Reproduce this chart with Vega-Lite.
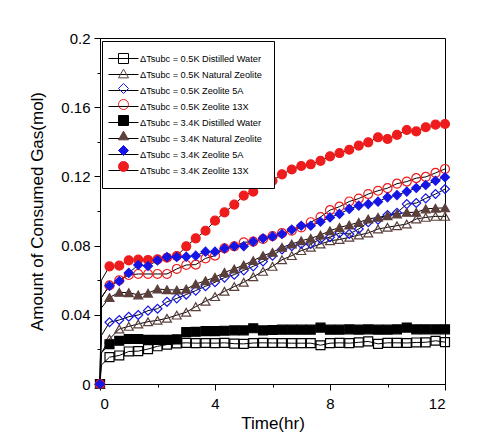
{
  "$schema": "https://vega.github.io/schema/vega-lite/v6.json",
  "width": 345,
  "height": 346,
  "autosize": {"type": "none"},
  "padding": {"left": 100, "top": 38, "right": 51, "bottom": 61},
  "background": "white",
  "data": {"values": [
    {"s":"ΔTsubc = 0.5K Distilled Water","t":0,"v":0},{"s":"ΔTsubc = 0.5K Distilled Water","t":0.05,"v":0.011},{"s":"ΔTsubc = 0.5K Distilled Water","t":0.33,"v":0.0155},{"s":"ΔTsubc = 0.5K Distilled Water","t":0.67,"v":0.0165},{"s":"ΔTsubc = 0.5K Distilled Water","t":1,"v":0.0188},{"s":"ΔTsubc = 0.5K Distilled Water","t":1.33,"v":0.019},{"s":"ΔTsubc = 0.5K Distilled Water","t":1.67,"v":0.0202},{"s":"ΔTsubc = 0.5K Distilled Water","t":2,"v":0.0218},{"s":"ΔTsubc = 0.5K Distilled Water","t":2.33,"v":0.0228},{"s":"ΔTsubc = 0.5K Distilled Water","t":2.67,"v":0.0235},{"s":"ΔTsubc = 0.5K Distilled Water","t":3,"v":0.0238},{"s":"ΔTsubc = 0.5K Distilled Water","t":3.33,"v":0.0236},{"s":"ΔTsubc = 0.5K Distilled Water","t":3.67,"v":0.0237},{"s":"ΔTsubc = 0.5K Distilled Water","t":4,"v":0.0236},{"s":"ΔTsubc = 0.5K Distilled Water","t":4.33,"v":0.0238},{"s":"ΔTsubc = 0.5K Distilled Water","t":4.67,"v":0.0233},{"s":"ΔTsubc = 0.5K Distilled Water","t":5,"v":0.0232},{"s":"ΔTsubc = 0.5K Distilled Water","t":5.33,"v":0.0237},{"s":"ΔTsubc = 0.5K Distilled Water","t":5.67,"v":0.0238},{"s":"ΔTsubc = 0.5K Distilled Water","t":6,"v":0.0237},{"s":"ΔTsubc = 0.5K Distilled Water","t":6.33,"v":0.0237},{"s":"ΔTsubc = 0.5K Distilled Water","t":6.67,"v":0.0236},{"s":"ΔTsubc = 0.5K Distilled Water","t":7,"v":0.0236},{"s":"ΔTsubc = 0.5K Distilled Water","t":7.33,"v":0.0236},{"s":"ΔTsubc = 0.5K Distilled Water","t":7.67,"v":0.0224},{"s":"ΔTsubc = 0.5K Distilled Water","t":8,"v":0.0236},{"s":"ΔTsubc = 0.5K Distilled Water","t":8.33,"v":0.0238},{"s":"ΔTsubc = 0.5K Distilled Water","t":8.67,"v":0.0236},{"s":"ΔTsubc = 0.5K Distilled Water","t":9,"v":0.0241},{"s":"ΔTsubc = 0.5K Distilled Water","t":9.33,"v":0.0246},{"s":"ΔTsubc = 0.5K Distilled Water","t":9.67,"v":0.0232},{"s":"ΔTsubc = 0.5K Distilled Water","t":10,"v":0.0238},{"s":"ΔTsubc = 0.5K Distilled Water","t":10.33,"v":0.0238},{"s":"ΔTsubc = 0.5K Distilled Water","t":10.67,"v":0.0237},{"s":"ΔTsubc = 0.5K Distilled Water","t":11,"v":0.024},{"s":"ΔTsubc = 0.5K Distilled Water","t":11.33,"v":0.0241},{"s":"ΔTsubc = 0.5K Distilled Water","t":11.67,"v":0.025},{"s":"ΔTsubc = 0.5K Distilled Water","t":12,"v":0.0242},
    {"s":"ΔTsubc = 0.5K Natural Zeolite","t":0,"v":0},{"s":"ΔTsubc = 0.5K Natural Zeolite","t":0.05,"v":0.018},{"s":"ΔTsubc = 0.5K Natural Zeolite","t":0.33,"v":0.026},{"s":"ΔTsubc = 0.5K Natural Zeolite","t":0.67,"v":0.0318},{"s":"ΔTsubc = 0.5K Natural Zeolite","t":1,"v":0.0333},{"s":"ΔTsubc = 0.5K Natural Zeolite","t":1.33,"v":0.0347},{"s":"ΔTsubc = 0.5K Natural Zeolite","t":1.67,"v":0.036},{"s":"ΔTsubc = 0.5K Natural Zeolite","t":2,"v":0.0368},{"s":"ΔTsubc = 0.5K Natural Zeolite","t":2.33,"v":0.038},{"s":"ΔTsubc = 0.5K Natural Zeolite","t":2.67,"v":0.0398},{"s":"ΔTsubc = 0.5K Natural Zeolite","t":3,"v":0.0415},{"s":"ΔTsubc = 0.5K Natural Zeolite","t":3.33,"v":0.0447},{"s":"ΔTsubc = 0.5K Natural Zeolite","t":3.67,"v":0.0478},{"s":"ΔTsubc = 0.5K Natural Zeolite","t":4,"v":0.0505},{"s":"ΔTsubc = 0.5K Natural Zeolite","t":4.33,"v":0.0536},{"s":"ΔTsubc = 0.5K Natural Zeolite","t":4.67,"v":0.0563},{"s":"ΔTsubc = 0.5K Natural Zeolite","t":5,"v":0.0588},{"s":"ΔTsubc = 0.5K Natural Zeolite","t":5.33,"v":0.062},{"s":"ΔTsubc = 0.5K Natural Zeolite","t":5.67,"v":0.0651},{"s":"ΔTsubc = 0.5K Natural Zeolite","t":6,"v":0.068},{"s":"ΔTsubc = 0.5K Natural Zeolite","t":6.33,"v":0.0718},{"s":"ΔTsubc = 0.5K Natural Zeolite","t":6.67,"v":0.0742},{"s":"ΔTsubc = 0.5K Natural Zeolite","t":7,"v":0.0771},{"s":"ΔTsubc = 0.5K Natural Zeolite","t":7.33,"v":0.079},{"s":"ΔTsubc = 0.5K Natural Zeolite","t":7.67,"v":0.0809},{"s":"ΔTsubc = 0.5K Natural Zeolite","t":8,"v":0.0828},{"s":"ΔTsubc = 0.5K Natural Zeolite","t":8.33,"v":0.0835},{"s":"ΔTsubc = 0.5K Natural Zeolite","t":8.67,"v":0.0848},{"s":"ΔTsubc = 0.5K Natural Zeolite","t":9,"v":0.0861},{"s":"ΔTsubc = 0.5K Natural Zeolite","t":9.33,"v":0.0873},{"s":"ΔTsubc = 0.5K Natural Zeolite","t":9.67,"v":0.0896},{"s":"ΔTsubc = 0.5K Natural Zeolite","t":10,"v":0.0906},{"s":"ΔTsubc = 0.5K Natural Zeolite","t":10.33,"v":0.0915},{"s":"ΔTsubc = 0.5K Natural Zeolite","t":10.67,"v":0.0925},{"s":"ΔTsubc = 0.5K Natural Zeolite","t":11,"v":0.0954},{"s":"ΔTsubc = 0.5K Natural Zeolite","t":11.33,"v":0.0963},{"s":"ΔTsubc = 0.5K Natural Zeolite","t":11.67,"v":0.0969},{"s":"ΔTsubc = 0.5K Natural Zeolite","t":12,"v":0.0969},
    {"s":"ΔTsubc = 0.5K Zeolite 5A","t":0,"v":0},{"s":"ΔTsubc = 0.5K Zeolite 5A","t":0.05,"v":0.028},{"s":"ΔTsubc = 0.5K Zeolite 5A","t":0.33,"v":0.0357},{"s":"ΔTsubc = 0.5K Zeolite 5A","t":0.67,"v":0.037},{"s":"ΔTsubc = 0.5K Zeolite 5A","t":1,"v":0.0389},{"s":"ΔTsubc = 0.5K Zeolite 5A","t":1.33,"v":0.0399},{"s":"ΔTsubc = 0.5K Zeolite 5A","t":1.67,"v":0.0424},{"s":"ΔTsubc = 0.5K Zeolite 5A","t":2,"v":0.0435},{"s":"ΔTsubc = 0.5K Zeolite 5A","t":2.33,"v":0.0475},{"s":"ΔTsubc = 0.5K Zeolite 5A","t":2.67,"v":0.0495},{"s":"ΔTsubc = 0.5K Zeolite 5A","t":3,"v":0.0517},{"s":"ΔTsubc = 0.5K Zeolite 5A","t":3.33,"v":0.054},{"s":"ΔTsubc = 0.5K Zeolite 5A","t":3.67,"v":0.0565},{"s":"ΔTsubc = 0.5K Zeolite 5A","t":4,"v":0.0588},{"s":"ΔTsubc = 0.5K Zeolite 5A","t":4.33,"v":0.0615},{"s":"ΔTsubc = 0.5K Zeolite 5A","t":4.67,"v":0.0632},{"s":"ΔTsubc = 0.5K Zeolite 5A","t":5,"v":0.0657},{"s":"ΔTsubc = 0.5K Zeolite 5A","t":5.33,"v":0.068},{"s":"ΔTsubc = 0.5K Zeolite 5A","t":5.67,"v":0.0708},{"s":"ΔTsubc = 0.5K Zeolite 5A","t":6,"v":0.0742},{"s":"ΔTsubc = 0.5K Zeolite 5A","t":6.33,"v":0.0778},{"s":"ΔTsubc = 0.5K Zeolite 5A","t":6.67,"v":0.0796},{"s":"ΔTsubc = 0.5K Zeolite 5A","t":7,"v":0.0809},{"s":"ΔTsubc = 0.5K Zeolite 5A","t":7.33,"v":0.0809},{"s":"ΔTsubc = 0.5K Zeolite 5A","t":7.67,"v":0.0838},{"s":"ΔTsubc = 0.5K Zeolite 5A","t":8,"v":0.0848},{"s":"ΔTsubc = 0.5K Zeolite 5A","t":8.33,"v":0.0873},{"s":"ΔTsubc = 0.5K Zeolite 5A","t":8.67,"v":0.0867},{"s":"ΔTsubc = 0.5K Zeolite 5A","t":9,"v":0.0896},{"s":"ΔTsubc = 0.5K Zeolite 5A","t":9.33,"v":0.0935},{"s":"ΔTsubc = 0.5K Zeolite 5A","t":9.67,"v":0.095},{"s":"ΔTsubc = 0.5K Zeolite 5A","t":10,"v":0.0977},{"s":"ΔTsubc = 0.5K Zeolite 5A","t":10.33,"v":0.099},{"s":"ΔTsubc = 0.5K Zeolite 5A","t":10.67,"v":0.104},{"s":"ΔTsubc = 0.5K Zeolite 5A","t":11,"v":0.1046},{"s":"ΔTsubc = 0.5K Zeolite 5A","t":11.33,"v":0.1073},{"s":"ΔTsubc = 0.5K Zeolite 5A","t":11.67,"v":0.1098},{"s":"ΔTsubc = 0.5K Zeolite 5A","t":12,"v":0.1127},
    {"s":"ΔTsubc = 0.5K Zeolite 13X","t":0,"v":0},{"s":"ΔTsubc = 0.5K Zeolite 13X","t":0.05,"v":0.05},{"s":"ΔTsubc = 0.5K Zeolite 13X","t":0.33,"v":0.057},{"s":"ΔTsubc = 0.5K Zeolite 13X","t":0.67,"v":0.06},{"s":"ΔTsubc = 0.5K Zeolite 13X","t":1,"v":0.063},{"s":"ΔTsubc = 0.5K Zeolite 13X","t":1.33,"v":0.0636},{"s":"ΔTsubc = 0.5K Zeolite 13X","t":1.67,"v":0.0636},{"s":"ΔTsubc = 0.5K Zeolite 13X","t":2,"v":0.0636},{"s":"ΔTsubc = 0.5K Zeolite 13X","t":2.33,"v":0.0636},{"s":"ΔTsubc = 0.5K Zeolite 13X","t":2.67,"v":0.0665},{"s":"ΔTsubc = 0.5K Zeolite 13X","t":3,"v":0.0688},{"s":"ΔTsubc = 0.5K Zeolite 13X","t":3.33,"v":0.069},{"s":"ΔTsubc = 0.5K Zeolite 13X","t":3.67,"v":0.0726},{"s":"ΔTsubc = 0.5K Zeolite 13X","t":4,"v":0.0742},{"s":"ΔTsubc = 0.5K Zeolite 13X","t":4.33,"v":0.0784},{"s":"ΔTsubc = 0.5K Zeolite 13X","t":4.67,"v":0.0796},{"s":"ΔTsubc = 0.5K Zeolite 13X","t":5,"v":0.0819},{"s":"ΔTsubc = 0.5K Zeolite 13X","t":5.33,"v":0.0823},{"s":"ΔTsubc = 0.5K Zeolite 13X","t":5.67,"v":0.0838},{"s":"ΔTsubc = 0.5K Zeolite 13X","t":6,"v":0.0855},{"s":"ΔTsubc = 0.5K Zeolite 13X","t":6.33,"v":0.0872},{"s":"ΔTsubc = 0.5K Zeolite 13X","t":6.67,"v":0.0886},{"s":"ΔTsubc = 0.5K Zeolite 13X","t":7,"v":0.0905},{"s":"ΔTsubc = 0.5K Zeolite 13X","t":7.33,"v":0.0935},{"s":"ΔTsubc = 0.5K Zeolite 13X","t":7.67,"v":0.0965},{"s":"ΔTsubc = 0.5K Zeolite 13X","t":8,"v":0.1005},{"s":"ΔTsubc = 0.5K Zeolite 13X","t":8.33,"v":0.1025},{"s":"ΔTsubc = 0.5K Zeolite 13X","t":8.67,"v":0.1055},{"s":"ΔTsubc = 0.5K Zeolite 13X","t":9,"v":0.1072},{"s":"ΔTsubc = 0.5K Zeolite 13X","t":9.33,"v":0.1098},{"s":"ΔTsubc = 0.5K Zeolite 13X","t":9.67,"v":0.1117},{"s":"ΔTsubc = 0.5K Zeolite 13X","t":10,"v":0.1132},{"s":"ΔTsubc = 0.5K Zeolite 13X","t":10.33,"v":0.1158},{"s":"ΔTsubc = 0.5K Zeolite 13X","t":10.67,"v":0.117},{"s":"ΔTsubc = 0.5K Zeolite 13X","t":11,"v":0.119},{"s":"ΔTsubc = 0.5K Zeolite 13X","t":11.33,"v":0.1197},{"s":"ΔTsubc = 0.5K Zeolite 13X","t":11.67,"v":0.122},{"s":"ΔTsubc = 0.5K Zeolite 13X","t":12,"v":0.1243},
    {"s":"ΔTsubc = 3.4K Distilled Water","t":0,"v":0},{"s":"ΔTsubc = 3.4K Distilled Water","t":0.05,"v":0.018},{"s":"ΔTsubc = 3.4K Distilled Water","t":0.33,"v":0.023},{"s":"ΔTsubc = 3.4K Distilled Water","t":0.67,"v":0.025},{"s":"ΔTsubc = 3.4K Distilled Water","t":1,"v":0.026},{"s":"ΔTsubc = 3.4K Distilled Water","t":1.33,"v":0.026},{"s":"ΔTsubc = 3.4K Distilled Water","t":1.67,"v":0.0255},{"s":"ΔTsubc = 3.4K Distilled Water","t":2,"v":0.0255},{"s":"ΔTsubc = 3.4K Distilled Water","t":2.33,"v":0.0255},{"s":"ΔTsubc = 3.4K Distilled Water","t":2.67,"v":0.0258},{"s":"ΔTsubc = 3.4K Distilled Water","t":3,"v":0.03},{"s":"ΔTsubc = 3.4K Distilled Water","t":3.33,"v":0.0302},{"s":"ΔTsubc = 3.4K Distilled Water","t":3.67,"v":0.0306},{"s":"ΔTsubc = 3.4K Distilled Water","t":4,"v":0.0306},{"s":"ΔTsubc = 3.4K Distilled Water","t":4.33,"v":0.0308},{"s":"ΔTsubc = 3.4K Distilled Water","t":4.67,"v":0.031},{"s":"ΔTsubc = 3.4K Distilled Water","t":5,"v":0.031},{"s":"ΔTsubc = 3.4K Distilled Water","t":5.33,"v":0.0322},{"s":"ΔTsubc = 3.4K Distilled Water","t":5.67,"v":0.031},{"s":"ΔTsubc = 3.4K Distilled Water","t":6,"v":0.0312},{"s":"ΔTsubc = 3.4K Distilled Water","t":6.33,"v":0.0314},{"s":"ΔTsubc = 3.4K Distilled Water","t":6.67,"v":0.0314},{"s":"ΔTsubc = 3.4K Distilled Water","t":7,"v":0.0314},{"s":"ΔTsubc = 3.4K Distilled Water","t":7.33,"v":0.0314},{"s":"ΔTsubc = 3.4K Distilled Water","t":7.67,"v":0.0326},{"s":"ΔTsubc = 3.4K Distilled Water","t":8,"v":0.0314},{"s":"ΔTsubc = 3.4K Distilled Water","t":8.33,"v":0.0314},{"s":"ΔTsubc = 3.4K Distilled Water","t":8.67,"v":0.0316},{"s":"ΔTsubc = 3.4K Distilled Water","t":9,"v":0.0314},{"s":"ΔTsubc = 3.4K Distilled Water","t":9.33,"v":0.0316},{"s":"ΔTsubc = 3.4K Distilled Water","t":9.67,"v":0.0314},{"s":"ΔTsubc = 3.4K Distilled Water","t":10,"v":0.0314},{"s":"ΔTsubc = 3.4K Distilled Water","t":10.33,"v":0.0316},{"s":"ΔTsubc = 3.4K Distilled Water","t":10.67,"v":0.0326},{"s":"ΔTsubc = 3.4K Distilled Water","t":11,"v":0.0316},{"s":"ΔTsubc = 3.4K Distilled Water","t":11.33,"v":0.0316},{"s":"ΔTsubc = 3.4K Distilled Water","t":11.67,"v":0.0316},{"s":"ΔTsubc = 3.4K Distilled Water","t":12,"v":0.0316},
    {"s":"ΔTsubc = 3.4K Natural Zeolite","t":0,"v":0},{"s":"ΔTsubc = 3.4K Natural Zeolite","t":0.05,"v":0.044},{"s":"ΔTsubc = 3.4K Natural Zeolite","t":0.33,"v":0.05},{"s":"ΔTsubc = 3.4K Natural Zeolite","t":0.67,"v":0.053},{"s":"ΔTsubc = 3.4K Natural Zeolite","t":1,"v":0.0528},{"s":"ΔTsubc = 3.4K Natural Zeolite","t":1.33,"v":0.0515},{"s":"ΔTsubc = 3.4K Natural Zeolite","t":1.67,"v":0.0525},{"s":"ΔTsubc = 3.4K Natural Zeolite","t":2,"v":0.0549},{"s":"ΔTsubc = 3.4K Natural Zeolite","t":2.33,"v":0.0545},{"s":"ΔTsubc = 3.4K Natural Zeolite","t":2.67,"v":0.0543},{"s":"ΔTsubc = 3.4K Natural Zeolite","t":3,"v":0.0549},{"s":"ΔTsubc = 3.4K Natural Zeolite","t":3.33,"v":0.0578},{"s":"ΔTsubc = 3.4K Natural Zeolite","t":3.67,"v":0.0597},{"s":"ΔTsubc = 3.4K Natural Zeolite","t":4,"v":0.0617},{"s":"ΔTsubc = 3.4K Natural Zeolite","t":4.33,"v":0.0645},{"s":"ΔTsubc = 3.4K Natural Zeolite","t":4.67,"v":0.0665},{"s":"ΔTsubc = 3.4K Natural Zeolite","t":5,"v":0.0688},{"s":"ΔTsubc = 3.4K Natural Zeolite","t":5.33,"v":0.0713},{"s":"ΔTsubc = 3.4K Natural Zeolite","t":5.67,"v":0.0742},{"s":"ΔTsubc = 3.4K Natural Zeolite","t":6,"v":0.0761},{"s":"ΔTsubc = 3.4K Natural Zeolite","t":6.33,"v":0.079},{"s":"ΔTsubc = 3.4K Natural Zeolite","t":6.67,"v":0.0809},{"s":"ΔTsubc = 3.4K Natural Zeolite","t":7,"v":0.0828},{"s":"ΔTsubc = 3.4K Natural Zeolite","t":7.33,"v":0.0842},{"s":"ΔTsubc = 3.4K Natural Zeolite","t":7.67,"v":0.0861},{"s":"ΔTsubc = 3.4K Natural Zeolite","t":8,"v":0.0886},{"s":"ΔTsubc = 3.4K Natural Zeolite","t":8.33,"v":0.0905},{"s":"ΔTsubc = 3.4K Natural Zeolite","t":8.67,"v":0.0919},{"s":"ΔTsubc = 3.4K Natural Zeolite","t":9,"v":0.0934},{"s":"ΔTsubc = 3.4K Natural Zeolite","t":9.33,"v":0.0954},{"s":"ΔTsubc = 3.4K Natural Zeolite","t":9.67,"v":0.0963},{"s":"ΔTsubc = 3.4K Natural Zeolite","t":10,"v":0.0973},{"s":"ΔTsubc = 3.4K Natural Zeolite","t":10.33,"v":0.0983},{"s":"ΔTsubc = 3.4K Natural Zeolite","t":10.67,"v":0.0992},{"s":"ΔTsubc = 3.4K Natural Zeolite","t":11,"v":0.0992},{"s":"ΔTsubc = 3.4K Natural Zeolite","t":11.33,"v":0.1012},{"s":"ΔTsubc = 3.4K Natural Zeolite","t":11.67,"v":0.1016},{"s":"ΔTsubc = 3.4K Natural Zeolite","t":12,"v":0.1018},
    {"s":"ΔTsubc = 3.4K Zeolite 13X","t":0,"v":0},{"s":"ΔTsubc = 3.4K Zeolite 13X","t":0.05,"v":0.06},{"s":"ΔTsubc = 3.4K Zeolite 13X","t":0.33,"v":0.068},{"s":"ΔTsubc = 3.4K Zeolite 13X","t":0.67,"v":0.0684},{"s":"ΔTsubc = 3.4K Zeolite 13X","t":1,"v":0.0715},{"s":"ΔTsubc = 3.4K Zeolite 13X","t":1.33,"v":0.0719},{"s":"ΔTsubc = 3.4K Zeolite 13X","t":1.67,"v":0.0717},{"s":"ΔTsubc = 3.4K Zeolite 13X","t":2,"v":0.072},{"s":"ΔTsubc = 3.4K Zeolite 13X","t":2.33,"v":0.073},{"s":"ΔTsubc = 3.4K Zeolite 13X","t":2.67,"v":0.074},{"s":"ΔTsubc = 3.4K Zeolite 13X","t":3,"v":0.0796},{"s":"ΔTsubc = 3.4K Zeolite 13X","t":3.33,"v":0.0842},{"s":"ΔTsubc = 3.4K Zeolite 13X","t":3.67,"v":0.0886},{"s":"ΔTsubc = 3.4K Zeolite 13X","t":4,"v":0.0944},{"s":"ΔTsubc = 3.4K Zeolite 13X","t":4.33,"v":0.0992},{"s":"ΔTsubc = 3.4K Zeolite 13X","t":4.67,"v":0.1037},{"s":"ΔTsubc = 3.4K Zeolite 13X","t":5,"v":0.1089},{"s":"ΔTsubc = 3.4K Zeolite 13X","t":5.33,"v":0.1112},{"s":"ΔTsubc = 3.4K Zeolite 13X","t":5.67,"v":0.1156},{"s":"ΔTsubc = 3.4K Zeolite 13X","t":6,"v":0.1175},{"s":"ΔTsubc = 3.4K Zeolite 13X","t":6.33,"v":0.1212},{"s":"ΔTsubc = 3.4K Zeolite 13X","t":6.67,"v":0.124},{"s":"ΔTsubc = 3.4K Zeolite 13X","t":7,"v":0.126},{"s":"ΔTsubc = 3.4K Zeolite 13X","t":7.33,"v":0.127},{"s":"ΔTsubc = 3.4K Zeolite 13X","t":7.67,"v":0.129},{"s":"ΔTsubc = 3.4K Zeolite 13X","t":8,"v":0.1316},{"s":"ΔTsubc = 3.4K Zeolite 13X","t":8.33,"v":0.1335},{"s":"ΔTsubc = 3.4K Zeolite 13X","t":8.67,"v":0.1354},{"s":"ΔTsubc = 3.4K Zeolite 13X","t":9,"v":0.1378},{"s":"ΔTsubc = 3.4K Zeolite 13X","t":9.33,"v":0.1397},{"s":"ΔTsubc = 3.4K Zeolite 13X","t":9.67,"v":0.1426},{"s":"ΔTsubc = 3.4K Zeolite 13X","t":10,"v":0.1416},{"s":"ΔTsubc = 3.4K Zeolite 13X","t":10.33,"v":0.144},{"s":"ΔTsubc = 3.4K Zeolite 13X","t":10.67,"v":0.1468},{"s":"ΔTsubc = 3.4K Zeolite 13X","t":11,"v":0.146},{"s":"ΔTsubc = 3.4K Zeolite 13X","t":11.33,"v":0.1484},{"s":"ΔTsubc = 3.4K Zeolite 13X","t":11.67,"v":0.1499},{"s":"ΔTsubc = 3.4K Zeolite 13X","t":12,"v":0.1503},
    {"s":"ΔTsubc = 3.4K Zeolite 5A","t":0,"v":0},{"s":"ΔTsubc = 3.4K Zeolite 5A","t":0.05,"v":0.05},{"s":"ΔTsubc = 3.4K Zeolite 5A","t":0.33,"v":0.0568},{"s":"ΔTsubc = 3.4K Zeolite 5A","t":0.67,"v":0.0595},{"s":"ΔTsubc = 3.4K Zeolite 5A","t":1,"v":0.0642},{"s":"ΔTsubc = 3.4K Zeolite 5A","t":1.33,"v":0.0688},{"s":"ΔTsubc = 3.4K Zeolite 5A","t":1.67,"v":0.0682},{"s":"ΔTsubc = 3.4K Zeolite 5A","t":2,"v":0.0715},{"s":"ΔTsubc = 3.4K Zeolite 5A","t":2.33,"v":0.0734},{"s":"ΔTsubc = 3.4K Zeolite 5A","t":2.67,"v":0.0734},{"s":"ΔTsubc = 3.4K Zeolite 5A","t":3,"v":0.0736},{"s":"ΔTsubc = 3.4K Zeolite 5A","t":3.33,"v":0.0742},{"s":"ΔTsubc = 3.4K Zeolite 5A","t":3.67,"v":0.0765},{"s":"ΔTsubc = 3.4K Zeolite 5A","t":4,"v":0.0765},{"s":"ΔTsubc = 3.4K Zeolite 5A","t":4.33,"v":0.0784},{"s":"ΔTsubc = 3.4K Zeolite 5A","t":4.67,"v":0.0796},{"s":"ΔTsubc = 3.4K Zeolite 5A","t":5,"v":0.0796},{"s":"ΔTsubc = 3.4K Zeolite 5A","t":5.33,"v":0.0823},{"s":"ΔTsubc = 3.4K Zeolite 5A","t":5.67,"v":0.0842},{"s":"ΔTsubc = 3.4K Zeolite 5A","t":6,"v":0.0853},{"s":"ΔTsubc = 3.4K Zeolite 5A","t":6.33,"v":0.0867},{"s":"ΔTsubc = 3.4K Zeolite 5A","t":6.67,"v":0.0892},{"s":"ΔTsubc = 3.4K Zeolite 5A","t":7,"v":0.0915},{"s":"ΔTsubc = 3.4K Zeolite 5A","t":7.33,"v":0.0915},{"s":"ΔTsubc = 3.4K Zeolite 5A","t":7.67,"v":0.0938},{"s":"ΔTsubc = 3.4K Zeolite 5A","t":8,"v":0.0963},{"s":"ΔTsubc = 3.4K Zeolite 5A","t":8.33,"v":0.0983},{"s":"ΔTsubc = 3.4K Zeolite 5A","t":8.67,"v":0.1012},{"s":"ΔTsubc = 3.4K Zeolite 5A","t":9,"v":0.1031},{"s":"ΔTsubc = 3.4K Zeolite 5A","t":9.33,"v":0.104},{"s":"ΔTsubc = 3.4K Zeolite 5A","t":9.67,"v":0.1054},{"s":"ΔTsubc = 3.4K Zeolite 5A","t":10,"v":0.1079},{"s":"ΔTsubc = 3.4K Zeolite 5A","t":10.33,"v":0.1092},{"s":"ΔTsubc = 3.4K Zeolite 5A","t":10.67,"v":0.1112},{"s":"ΔTsubc = 3.4K Zeolite 5A","t":11,"v":0.1133},{"s":"ΔTsubc = 3.4K Zeolite 5A","t":11.33,"v":0.115},{"s":"ΔTsubc = 3.4K Zeolite 5A","t":11.67,"v":0.1175},{"s":"ΔTsubc = 3.4K Zeolite 5A","t":12,"v":0.1195}
  ]},
  "encoding": {
    "x": {"field": "t", "type": "quantitative", "scale": {"domain": [0, 12], "nice": false},
      "axis": {"values": [0, 2, 4, 6, 8, 10, 12], "labelExpr": "datum.value % 4 == 0 ? datum.label : ''",
        "tickSize": {"condition": {"test": "datum.value % 4 == 0", "value": 6}, "value": 3},
        "title": "Time(hr)", "labelPadding": 6, "titlePadding": 4}},
    "y": {"field": "v", "type": "quantitative", "scale": {"domain": [0, 0.2], "nice": false},
      "axis": {"values": [0, 0.02, 0.04, 0.06, 0.08, 0.1, 0.12, 0.14, 0.16, 0.18, 0.2], "format": "~g",
        "labelExpr": "round(datum.value * 100) % 4 == 0 ? datum.label : ''",
        "tickSize": {"condition": {"test": "round(datum.value * 100) % 4 == 0", "value": 6}, "value": 3},
        "title": "Amount of Consumed Gas(mol)", "labelPadding": 4, "titlePadding": 14}}
  },
  "layer": [
    {
      "mark": {"type": "line", "strokeWidth": 1},
      "encoding": {
        "color": {"field": "s", "type": "nominal",
          "scale": {"range": ["black", "black", "black", "black", "black", "black", "black", "black"]},
          "legend": {"orient": "none", "legendX": 2, "legendY": 3, "title": null,
            "values": ["ΔTsubc = 0.5K Distilled Water", "ΔTsubc = 0.5K Natural Zeolite", "ΔTsubc = 0.5K Zeolite 5A", "ΔTsubc = 0.5K Zeolite 13X", "ΔTsubc = 3.4K Distilled Water", "ΔTsubc = 3.4K Natural Zeolite", "ΔTsubc = 3.4K Zeolite 5A", "ΔTsubc = 3.4K Zeolite 13X"],
            "symbolType": "M-3,0H3", "symbolSize": 100, "symbolStrokeWidth": 1, "symbolStrokeColor": "black",
            "strokeColor": "black", "fillColor": "white", "padding": 12, "symbolOffset": 4, "labelOffset": 11, "rowPadding": 5,
            "labelFont": "Liberation Sans", "labelFontSize": 9.2, "labelColor": "black", "labelLimit": 400}}
      }
    },
    {
      "transform": [{"filter": "datum.t != 0.05"}],
      "mark": {"type": "point", "size": 80, "strokeWidth": 1.2, "opacity": 1, "filled": true},
      "encoding": {
        "fill": {"field": "s", "type": "nominal",
          "scale": {"domain": ["ΔTsubc = 0.5K Distilled Water", "ΔTsubc = 0.5K Natural Zeolite", "ΔTsubc = 0.5K Zeolite 5A", "ΔTsubc = 0.5K Zeolite 13X", "ΔTsubc = 3.4K Distilled Water", "ΔTsubc = 3.4K Natural Zeolite", "ΔTsubc = 3.4K Zeolite 5A", "ΔTsubc = 3.4K Zeolite 13X"],
            "range": ["transparent", "transparent", "transparent", "transparent", "black", "#5b3f3a", "#1515e6", "#ee1c1c"]},
          "legend": null},
        "stroke": {"field": "s", "type": "nominal",
          "scale": {"domain": ["ΔTsubc = 0.5K Distilled Water", "ΔTsubc = 0.5K Natural Zeolite", "ΔTsubc = 0.5K Zeolite 5A", "ΔTsubc = 0.5K Zeolite 13X", "ΔTsubc = 3.4K Distilled Water", "ΔTsubc = 3.4K Natural Zeolite", "ΔTsubc = 3.4K Zeolite 5A", "ΔTsubc = 3.4K Zeolite 13X"],
            "range": ["black", "#5b3f3a", "#1515e6", "#ee1c1c", "black", "#5b3f3a", "#1515e6", "#ee1c1c"]},
          "legend": null},
        "shape": {"field": "s", "type": "nominal",
          "scale": {"domain": ["ΔTsubc = 0.5K Distilled Water", "ΔTsubc = 0.5K Natural Zeolite", "ΔTsubc = 0.5K Zeolite 5A", "ΔTsubc = 0.5K Zeolite 13X", "ΔTsubc = 3.4K Distilled Water", "ΔTsubc = 3.4K Natural Zeolite", "ΔTsubc = 3.4K Zeolite 5A", "ΔTsubc = 3.4K Zeolite 13X"],
            "range": ["square", "triangle-up", "diamond", "circle", "square", "triangle-up", "diamond", "circle"]},
          "legend": {"orient": "none", "legendX": 2, "legendY": 3, "title": null, "symbolSize": 100, "symbolStrokeWidth": 1,
            "padding": 12, "symbolOffset": 4, "labelOffset": 11, "rowPadding": 1,
            "labelFont": "Liberation Sans", "labelFontSize": 9.2, "labelOpacity": 0, "labelLimit": 400, "labelExpr": "''",
            "encode": {"symbols": {"update": {"fill": {"scale": "fill", "field": "value"}, "stroke": {"scale": "stroke", "field": "value"}, "strokeWidth": {"value": 1.2}}}}}}
      }
    }
  ],
  "config": {
    "view": {"stroke": "black", "strokeWidth": 1},
    "axis": {"grid": false, "domainColor": "black", "domainWidth": 1, "tickColor": "black", "tickWidth": 1,
      "labelColor": "black", "titleColor": "black", "labelFont": "Liberation Sans", "titleFont": "Liberation Sans",
      "labelFontSize": 15, "titleFontSize": 17, "titleFontWeight": "normal"}
  }
}
